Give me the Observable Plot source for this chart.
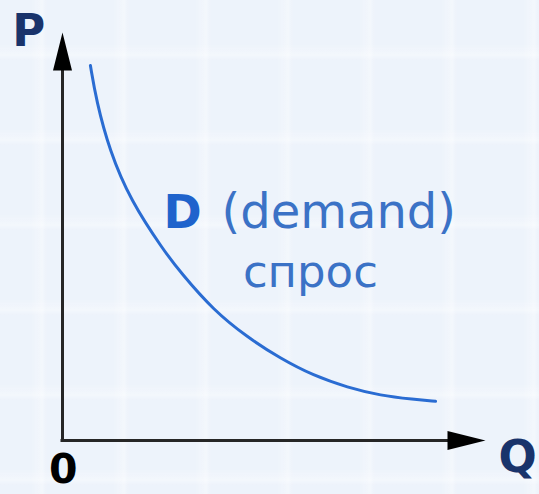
<!DOCTYPE html>
<html>
<head>
<meta charset="utf-8">
<script src="https://cdn.jsdelivr.net/npm/d3@7"></script>
<script src="https://cdn.jsdelivr.net/npm/@observablehq/plot@0.6"></script>
<style>
  html, body { margin: 0; padding: 0; }
  #chart {
    width: 539px; height: 494px; overflow: hidden;
    background-color: #edf3fb;
    background-image:
      linear-gradient(90deg, rgba(255,255,255,0) 0px, rgba(255,255,255,0) 66px, rgba(255,255,255,0.35) 77px, rgba(255,255,255,0) 82px),
      linear-gradient(180deg, rgba(255,255,255,0) 0px, rgba(255,255,255,0) 69px, rgba(255,255,255,0.35) 80px, rgba(255,255,255,0) 85px);
    background-size: 82px 100%, 100% 85px;
    background-position: -35px 0, 0 -25px;
  }
  svg { display: block; }
</style>
</head>
<body>
<div id="chart"></div>
<script>
// Demand curve D: quantity Q vs price P
const curveQ = [0.66, 0.80, 1.11, 1.61, 2.39, 2.79, 3.57, 4.37, 5.15, 5.93, 6.74, 7.52, 8.30, 8.82];
const curveP = [9.19, 8.33, 7.11, 5.88, 4.66, 4.12, 3.19, 2.53, 2.01, 1.59, 1.30, 1.10, 1.01, 0.96];

const curveName = "D";
const curveLabelEn = "(demand)";
const curveLabelRu = "спрос";
const axisNameY = "P";
const axisNameX = "Q";
const originLabel = "0";

const curve = curveQ.map((q, i) => ({q, p: curveP[i]}));

// elongated filled arrowhead, tip at the anchor, body going "down"
const arrowHead = {
  draw(context) {
    const w = 9.5, h = 38;
    context.moveTo(0, 0);
    context.lineTo(w, h);
    context.lineTo(-w, h);
    context.closePath();
  }
};

const font = "DejaVu Sans, Verdana, sans-serif";
const axisColor = "#262626";

const chart = Plot.plot({
  width: 539,
  height: 494,
  marginLeft: 62,
  marginRight: 54,
  marginTop: 32,
  marginBottom: 54,
  x: {domain: [0, 10], axis: null},
  y: {domain: [0, 10], axis: null},
  style: {background: "transparent", overflow: "visible"},
  marks: [
    Plot.ruleX([0], {y1: 0, y2: 9.3, stroke: axisColor, strokeWidth: 3, strokeLinecap: "square"}),
    Plot.ruleY([0], {x1: 0, x2: 9.3, stroke: axisColor, strokeWidth: 3, strokeLinecap: "square"}),
    Plot.dot([{q: 0, p: 10}], {x: "q", y: "p", symbol: arrowHead, fill: "#000", stroke: "none", r: 10}),
    Plot.dot([{q: 10, p: 0}], {x: "q", y: "p", symbol: arrowHead, rotate: 90, fill: "#000", stroke: "none", r: 10}),
    Plot.line(curve, {x: "q", y: "p", curve: "basis", stroke: "#2a6cd2", strokeWidth: 3}),
    Plot.text([curveName], {x: 2.39, y: 5.2, text: d => d, textAnchor: "start", lineAnchor: "bottom",
      fontFamily: font, fontWeight: "bold", fontSize: 46, fill: "#1f63cc"}),
    Plot.text([curveLabelEn], {x: 3.76, y: 5.2, text: d => d, textAnchor: "start", lineAnchor: "bottom",
      fontFamily: font, fontSize: 48, fill: "#3b72c6"}),
    Plot.text([curveLabelRu], {x: 5.86, y: 3.77, text: d => d, textAnchor: "middle", lineAnchor: "bottom",
      fontFamily: font, fontSize: 45, fill: "#3b72c6"}),
    Plot.text([axisNameY], {x: -0.80, y: 9.68, text: d => d, textAnchor: "middle", lineAnchor: "bottom",
      fontFamily: font, fontWeight: "bold", fontSize: 45, fill: "#19336b"}),
    Plot.text([axisNameX], {x: 10.76, y: -0.76, text: d => d, textAnchor: "middle", lineAnchor: "bottom",
      fontFamily: font, fontWeight: "bold", fontSize: 45, fill: "#19336b"}),
    Plot.text([originLabel], {x: 0.02, y: -1.03, text: d => d, textAnchor: "middle", lineAnchor: "bottom",
      fontFamily: font, fontWeight: "bold", fontSize: 41, fill: "#000"})
  ]
});
document.getElementById("chart").appendChild(chart);
</script>
</body>
</html>
